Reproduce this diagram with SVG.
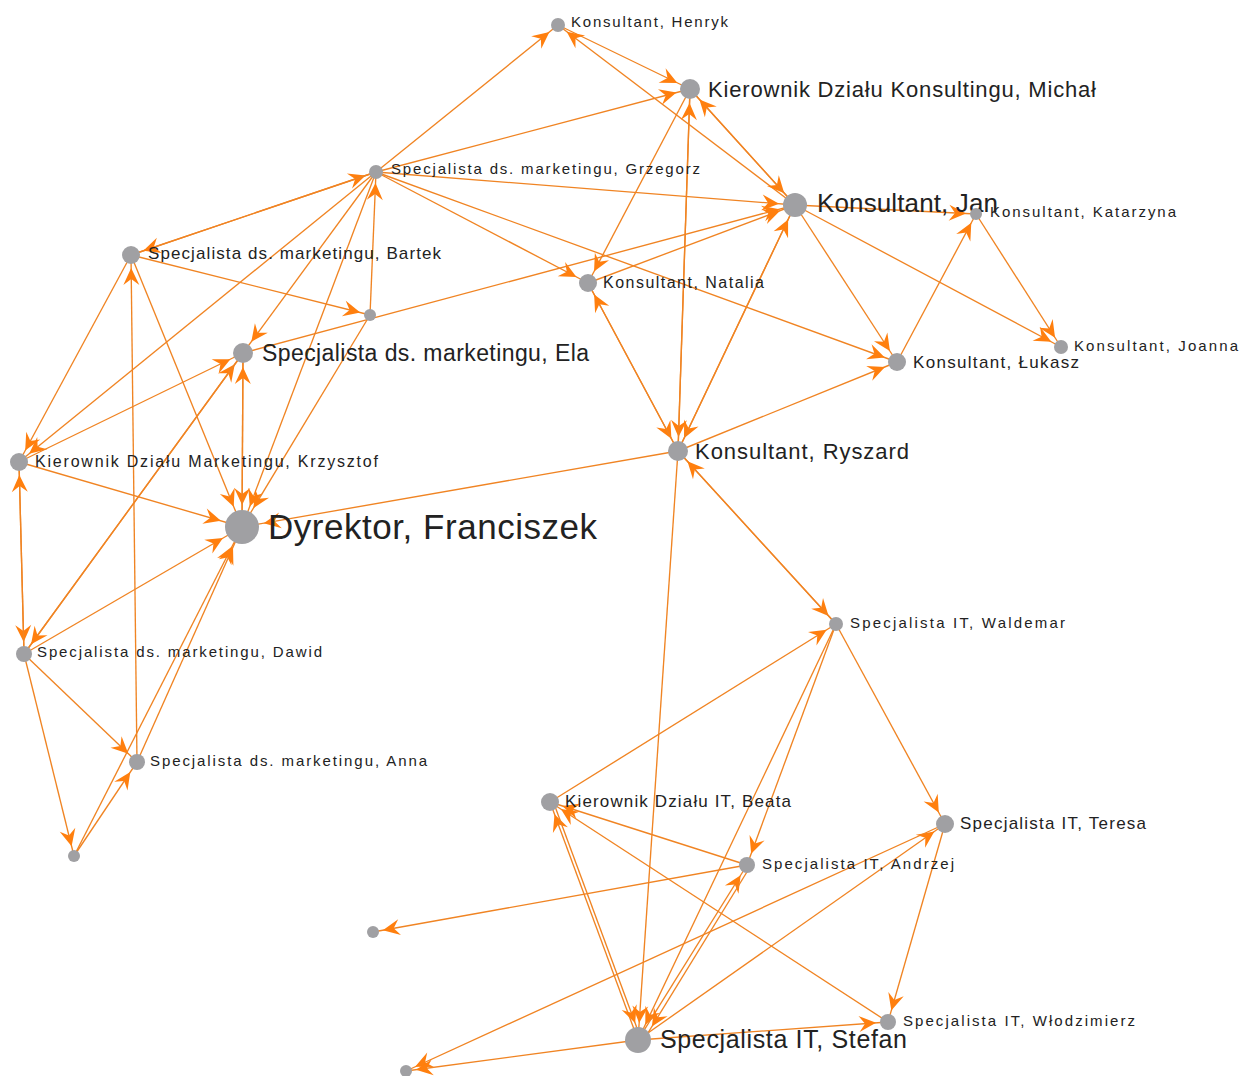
<svg xmlns="http://www.w3.org/2000/svg" width="1242" height="1076" viewBox="0 0 1242 1076">
<style>
.e{stroke:#f08423;stroke-width:1.35;fill:none}
.n circle{fill:#a0a0a3}
.n text{font-family:"Liberation Sans",Arial,sans-serif;fill:#222}
.a{fill:#ff7f0e}
</style>
<defs>
<marker id="m6" markerUnits="userSpaceOnUse" orient="auto" refX="27" refY="0" markerWidth="18" markerHeight="16" overflow="visible"><path class="a" d="M0,-8 L17,0 L0,8 L6,0 Z"/></marker>
<marker id="m7" markerUnits="userSpaceOnUse" orient="auto" refX="28" refY="0" markerWidth="18" markerHeight="16" overflow="visible"><path class="a" d="M0,-8 L17,0 L0,8 L6,0 Z"/></marker>
<marker id="m8" markerUnits="userSpaceOnUse" orient="auto" refX="29" refY="0" markerWidth="18" markerHeight="16" overflow="visible"><path class="a" d="M0,-8 L17,0 L0,8 L6,0 Z"/></marker>
<marker id="m9" markerUnits="userSpaceOnUse" orient="auto" refX="30" refY="0" markerWidth="18" markerHeight="16" overflow="visible"><path class="a" d="M0,-8 L17,0 L0,8 L6,0 Z"/></marker>
<marker id="m10" markerUnits="userSpaceOnUse" orient="auto" refX="31" refY="0" markerWidth="18" markerHeight="16" overflow="visible"><path class="a" d="M0,-8 L17,0 L0,8 L6,0 Z"/></marker>
<marker id="m12" markerUnits="userSpaceOnUse" orient="auto" refX="33" refY="0" markerWidth="18" markerHeight="16" overflow="visible"><path class="a" d="M0,-8 L17,0 L0,8 L6,0 Z"/></marker>
<marker id="m13" markerUnits="userSpaceOnUse" orient="auto" refX="34" refY="0" markerWidth="18" markerHeight="16" overflow="visible"><path class="a" d="M0,-8 L17,0 L0,8 L6,0 Z"/></marker>
<marker id="m17" markerUnits="userSpaceOnUse" orient="auto" refX="39" refY="0" markerWidth="18" markerHeight="16" overflow="visible"><path class="a" d="M0,-8 L17,0 L0,8 L6,0 Z"/></marker>
</defs>
<rect width="1242" height="1076" fill="#ffffff"/>
<g id="edges">
<line class="e" x1="376" y1="172" x2="558" y2="25" marker-end="url(#m7)"/>
<line class="e" x1="558" y1="25" x2="690" y2="89" marker-end="url(#m10)"/>
<line class="e" x1="795" y1="205" x2="558" y2="25" marker-end="url(#m7)"/>
<line class="e" x1="690" y1="89" x2="795" y2="205" marker-end="url(#m12)"/>
<line class="e" x1="795" y1="205" x2="690" y2="89" marker-end="url(#m10)"/>
<line class="e" x1="376" y1="172" x2="690" y2="89" marker-end="url(#m10)"/>
<line class="e" x1="690" y1="89" x2="588" y2="283" marker-end="url(#m9)"/>
<line class="e" x1="690" y1="89" x2="678" y2="451" marker-end="url(#m10)"/>
<line class="e" x1="678" y1="451" x2="690" y2="89" marker-end="url(#m10)"/>
<line class="e" x1="376" y1="172" x2="795" y2="205" marker-end="url(#m12)"/>
<line class="e" x1="376" y1="172" x2="588" y2="283" marker-end="url(#m9)"/>
<line class="e" x1="376" y1="172" x2="897" y2="362" marker-end="url(#m9)"/>
<line class="e" x1="588" y1="283" x2="795" y2="205" marker-end="url(#m12)"/>
<line class="e" x1="243" y1="353" x2="795" y2="205" marker-end="url(#m12)"/>
<line class="e" x1="131" y1="255" x2="376" y2="172" marker-end="url(#m7)"/>
<line class="e" x1="376" y1="172" x2="131" y2="255" marker-end="url(#m9)"/>
<line class="e" x1="131" y1="255" x2="370" y2="315" marker-end="url(#m6)"/>
<line class="e" x1="370" y1="315" x2="376" y2="172" marker-end="url(#m7)"/>
<line class="e" x1="376" y1="172" x2="243" y2="353" marker-end="url(#m10)"/>
<line class="e" x1="376" y1="172" x2="19" y2="462" marker-end="url(#m9)"/>
<line class="e" x1="131" y1="255" x2="19" y2="462" marker-end="url(#m9)"/>
<line class="e" x1="376" y1="172" x2="242" y2="527" marker-end="url(#m17)"/>
<line class="e" x1="370" y1="315" x2="242" y2="527" marker-end="url(#m17)"/>
<line class="e" x1="131" y1="255" x2="242" y2="527" marker-end="url(#m17)"/>
<line class="e" x1="243" y1="353" x2="242" y2="527" marker-end="url(#m17)"/>
<line class="e" x1="242" y1="527" x2="243" y2="353" marker-end="url(#m10)"/>
<line class="e" x1="19" y1="462" x2="243" y2="353" marker-end="url(#m10)"/>
<line class="e" x1="19" y1="462" x2="242" y2="527" marker-end="url(#m17)"/>
<line class="e" x1="24" y1="654" x2="243" y2="353" marker-end="url(#m10)"/>
<line class="e" x1="243" y1="353" x2="24" y2="654" marker-end="url(#m8)"/>
<line class="e" x1="137" y1="762" x2="131" y2="255" marker-end="url(#m9)"/>
<line class="e" x1="24" y1="654" x2="137" y2="762" marker-end="url(#m8)"/>
<line class="e" x1="24" y1="654" x2="74" y2="856" marker-end="url(#m6)"/>
<line class="e" x1="74" y1="856" x2="137" y2="762" marker-end="url(#m8)"/>
<line class="e" x1="74" y1="856" x2="242" y2="527" marker-end="url(#m17)"/>
<line class="e" x1="137" y1="762" x2="242" y2="527" marker-end="url(#m17)"/>
<line class="e" x1="24" y1="654" x2="242" y2="527" marker-end="url(#m17)"/>
<line class="e" x1="19" y1="462" x2="24" y2="654" marker-end="url(#m8)"/>
<line class="e" x1="24" y1="654" x2="19" y2="462" marker-end="url(#m9)"/>
<line class="e" x1="678" y1="451" x2="242" y2="527" marker-end="url(#m17)"/>
<line class="e" x1="588" y1="283" x2="678" y2="451" marker-end="url(#m10)"/>
<line class="e" x1="678" y1="451" x2="588" y2="283" marker-end="url(#m9)"/>
<line class="e" x1="795" y1="205" x2="678" y2="451" marker-end="url(#m10)"/>
<line class="e" x1="678" y1="451" x2="795" y2="205" marker-end="url(#m12)"/>
<line class="e" x1="678" y1="451" x2="897" y2="362" marker-end="url(#m9)"/>
<line class="e" x1="795" y1="205" x2="897" y2="362" marker-end="url(#m9)"/>
<line class="e" x1="795" y1="205" x2="976" y2="214" marker-end="url(#m6)"/>
<line class="e" x1="897" y1="362" x2="976" y2="214" marker-end="url(#m6)"/>
<line class="e" x1="976" y1="214" x2="1061" y2="347" marker-end="url(#m7)"/>
<line class="e" x1="795" y1="205" x2="1061" y2="347" marker-end="url(#m7)"/>
<line class="e" x1="678" y1="451" x2="836" y2="624" marker-end="url(#m7)"/>
<line class="e" x1="836" y1="624" x2="678" y2="451" marker-end="url(#m10)"/>
<line class="e" x1="678" y1="451" x2="638" y2="1040" marker-end="url(#m13)"/>
<line class="e" x1="550" y1="802" x2="836" y2="624" marker-end="url(#m7)"/>
<line class="e" x1="836" y1="624" x2="747" y2="865" marker-end="url(#m8)"/>
<line class="e" x1="836" y1="624" x2="638" y2="1040" marker-end="url(#m13)"/>
<line class="e" x1="836" y1="624" x2="945" y2="824" marker-end="url(#m9)"/>
<line class="e" x1="638" y1="1040" x2="945" y2="824" marker-end="url(#m9)"/>
<line class="e" x1="945" y1="824" x2="406" y2="1071" marker-end="url(#m6)"/>
<line class="e" x1="638" y1="1040" x2="406" y2="1071" marker-end="url(#m6)"/>
<line class="e" x1="747" y1="865" x2="373" y2="932" marker-end="url(#m6)"/>
<line class="e" x1="747" y1="865" x2="550" y2="802" marker-end="url(#m9)"/>
<line class="e" x1="888" y1="1022" x2="550" y2="802" marker-end="url(#m9)"/>
<line class="e" x1="638" y1="1040" x2="550" y2="802" marker-end="url(#m9)"/>
<line class="e" x1="553" y1="801" x2="641" y2="1039" marker-end="url(#m13)"/>
<line class="e" x1="638" y1="1040" x2="747" y2="865" marker-end="url(#m8)"/>
<line class="e" x1="750" y1="867" x2="643" y2="1041" marker-end="url(#m13)"/>
<line class="e" x1="638" y1="1040" x2="888" y2="1022" marker-end="url(#m8)"/>
<line class="e" x1="945" y1="824" x2="888" y2="1022" marker-end="url(#m8)"/>
</g>
<g id="n-henryk" class="n"><circle cx="558" cy="25" r="7"/><text x="571" y="27" font-size="15" textLength="157" lengthAdjust="spacing">Konsultant, Henryk</text></g>
<g id="n-michal" class="n"><circle cx="690" cy="89" r="10"/><text x="708" y="97" font-size="22" textLength="388" lengthAdjust="spacing">Kierownik Działu Konsultingu, Michał</text></g>
<g id="n-grzegorz" class="n"><circle cx="376" cy="172" r="7"/><text x="391" y="174" font-size="15" textLength="309" lengthAdjust="spacing">Specjalista ds. marketingu, Grzegorz</text></g>
<g id="n-jan" class="n"><circle cx="795" cy="205" r="12"/><text x="817" y="212" font-size="26" textLength="181" lengthAdjust="spacing">Konsultant, Jan</text></g>
<g id="n-katarzyna" class="n"><circle cx="976" cy="214" r="6"/><text x="990" y="217" font-size="15" textLength="186" lengthAdjust="spacing">Konsultant, Katarzyna</text></g>
<g id="n-bartek" class="n"><circle cx="131" cy="255" r="9"/><text x="148" y="259" font-size="17" textLength="293" lengthAdjust="spacing">Specjalista ds. marketingu, Bartek</text></g>
<g id="n-natalia" class="n"><circle cx="588" cy="283" r="9"/><text x="603" y="288" font-size="16" textLength="161" lengthAdjust="spacing">Konsultant, Natalia</text></g>
<g id="n-x1" class="n"><circle cx="370" cy="315" r="6"/></g>
<g id="n-joanna" class="n"><circle cx="1061" cy="347" r="7"/><text x="1074" y="351" font-size="15" textLength="164" lengthAdjust="spacing">Konsultant, Joanna</text></g>
<g id="n-ela" class="n"><circle cx="243" cy="353" r="10"/><text x="262" y="361" font-size="23" textLength="327" lengthAdjust="spacing">Specjalista ds. marketingu, Ela</text></g>
<g id="n-lukasz" class="n"><circle cx="897" cy="362" r="9"/><text x="913" y="368" font-size="17" textLength="166" lengthAdjust="spacing">Konsultant, Łukasz</text></g>
<g id="n-ryszard" class="n"><circle cx="678" cy="451" r="10"/><text x="695" y="459" font-size="22" textLength="214" lengthAdjust="spacing">Konsultant, Ryszard</text></g>
<g id="n-krzysztof" class="n"><circle cx="19" cy="462" r="9"/><text x="35" y="467" font-size="16" textLength="343" lengthAdjust="spacing">Kierownik Działu Marketingu, Krzysztof</text></g>
<g id="n-dyrektor" class="n"><circle cx="242" cy="527" r="17"/><text x="268" y="539" font-size="35" textLength="329" lengthAdjust="spacing">Dyrektor, Franciszek</text></g>
<g id="n-waldemar" class="n"><circle cx="836" cy="624" r="7"/><text x="850" y="628" font-size="15" textLength="215" lengthAdjust="spacing">Specjalista IT, Waldemar</text></g>
<g id="n-dawid" class="n"><circle cx="24" cy="654" r="8"/><text x="37" y="657" font-size="15" textLength="285" lengthAdjust="spacing">Specjalista ds. marketingu, Dawid</text></g>
<g id="n-anna" class="n"><circle cx="137" cy="762" r="8"/><text x="150" y="766" font-size="15" textLength="277" lengthAdjust="spacing">Specjalista ds. marketingu, Anna</text></g>
<g id="n-beata" class="n"><circle cx="550" cy="802" r="9"/><text x="565" y="807" font-size="17" textLength="226" lengthAdjust="spacing">Kierownik Działu IT, Beata</text></g>
<g id="n-teresa" class="n"><circle cx="945" cy="824" r="9"/><text x="960" y="829" font-size="17" textLength="186" lengthAdjust="spacing">Specjalista IT, Teresa</text></g>
<g id="n-andrzej" class="n"><circle cx="747" cy="865" r="8"/><text x="762" y="869" font-size="15" textLength="192" lengthAdjust="spacing">Specjalista IT, Andrzej</text></g>
<g id="n-x2" class="n"><circle cx="74" cy="856" r="6"/></g>
<g id="n-x3" class="n"><circle cx="373" cy="932" r="6"/></g>
<g id="n-wlodzimierz" class="n"><circle cx="888" cy="1022" r="8"/><text x="903" y="1026" font-size="15" textLength="232" lengthAdjust="spacing">Specjalista IT, Włodzimierz</text></g>
<g id="n-stefan" class="n"><circle cx="638" cy="1040" r="13"/><text x="660" y="1048" font-size="25" textLength="247" lengthAdjust="spacing">Specjalista IT, Stefan</text></g>
<g id="n-x4" class="n"><circle cx="406" cy="1071" r="6"/></g>
</svg>
